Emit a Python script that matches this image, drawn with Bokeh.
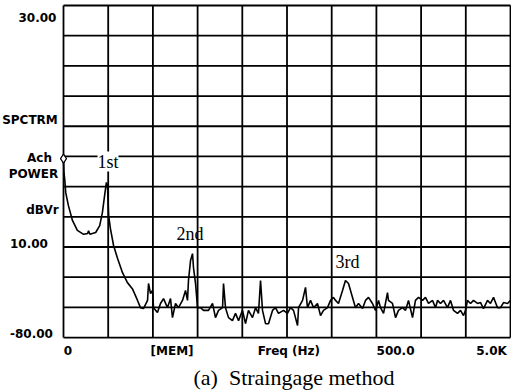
from bokeh.plotting import figure
from bokeh.models import Range1d, Label
from bokeh.embed import file_html
from bokeh.resources import INLINE

# ---- data ----
freq_hz = [
    0, 5, 15, 25, 55, 100, 155, 225, 270, 280,
    295, 360, 405, 435, 460, 480, 492, 505, 525, 560,
    605, 660, 715, 770, 805, 828, 861, 895, 940, 951,
    973, 996, 1007, 1051, 1085, 1119, 1163, 1197, 1219, 1253,
    1286, 1331, 1365, 1387, 1398, 1421, 1443, 1454, 1477, 1499,
    1532, 1566, 1622, 1667, 1700, 1734, 1779, 1790, 1812, 1846,
    1890, 1924, 1958, 2002, 2036, 2069, 2114, 2148, 2181, 2204,
    2226, 2260, 2293, 2338, 2371, 2405, 2461, 2505, 2539, 2573,
    2618, 2629, 2674, 2707, 2729, 2763, 2797, 2841, 2875, 2908,
    2953, 2987, 3020, 3043, 3076, 3121, 3154, 3188, 3233, 3266,
    3300, 3345, 3378, 3412, 3456, 3490, 3524, 3546, 3580, 3624,
    3635, 3680, 3714, 3747, 3792, 3826, 3859, 3904, 3937, 3971,
    4016, 4049, 4083, 4128, 4161, 4184, 4217, 4251, 4295, 4329,
    4363, 4407, 4441, 4474, 4497, 4519, 4553, 4586, 4631, 4665,
    4698, 4743, 4776, 4810, 4855, 4888, 4922, 4967, 5000,
]
power_dbvr = [
    -20.7, -25.3, -28.0, -32.0, -36.3, -41.2, -44.5, -45.8, -45.5, -44.6,
    -45.8, -45.2, -42.9, -38.6, -32.9, -28.6, -29.6, -39.6, -43.9, -49.5,
    -53.8, -58.5, -61.8, -63.8, -66.1, -67.7, -70.1, -70.4, -67.7, -62.1,
    -65.4, -64.4, -70.1, -71.7, -68.7, -67.1, -70.1, -67.1, -73.4, -68.7,
    -70.1, -67.7, -64.4, -67.7, -61.1, -54.5, -52.2, -56.8, -62.1, -70.1,
    -70.1, -71.0, -71.0, -68.7, -73.4, -71.0, -70.1, -62.1, -70.1, -73.4,
    -74.4, -72.0, -74.4, -71.0, -75.4, -71.0, -73.4, -70.1, -72.0, -61.1,
    -71.0, -75.4, -75.4, -71.0, -70.1, -72.0, -71.0, -72.0, -70.1, -71.0,
    -76.0, -70.1, -67.7, -63.4, -70.1, -67.7, -70.1, -68.7, -72.7, -71.0,
    -70.1, -67.7, -66.7, -67.7, -68.7, -64.4, -61.1, -62.1, -66.7, -70.1,
    -68.7, -70.4, -67.7, -66.7, -68.7, -71.0, -67.7, -70.1, -72.0, -65.1,
    -67.7, -68.7, -73.4, -71.0, -70.1, -71.0, -67.7, -73.4, -67.7, -66.7,
    -67.7, -66.7, -68.7, -67.7, -70.1, -67.7, -68.7, -67.7, -70.1, -67.7,
    -71.0, -72.0, -71.0, -72.7, -71.0, -67.7, -68.7, -67.7, -68.7, -68.4,
    -70.4, -67.7, -68.7, -66.7, -70.1, -70.1, -68.4, -68.7, -67.7,
]
marker_freq = [0]
marker_db = [-20.7]

freq_ticks = [0, 500, 1000, 1500, 2000, 2500, 3000, 3500, 4000, 4500, 5000]
db_ticks = [30, 20, 10, 0, -10, -20, -30, -40, -50, -60, -70, -80]

peak_names = ["1st", "2nd", "3rd"]
peak_freq = [498, 1415, 3177]
peak_db = [-21.7, -45.7, -55.0]

left_texts = ["30.00", "SPCTRM", "Ach", "POWER", "dBVr", "10.00", "-80.00"]
left_db = [26.0, -7.8, -20.4, -25.7, -37.6, -48.9, -78.7]
left_x = [-291, -375, -268, -336, -235, -386, -358]

bottom_texts = ["0", "[MEM]", "Freq (Hz)", "500.0", "5.0K"]
bottom_x = [50, 1214, 2522, 3714, 4788]
caption = "(a)\u00a0\u00a0Straingage method"

F0, F1 = freq_ticks[0], freq_ticks[-1]
D0, D1 = db_ticks[-1], db_ticks[0]

# ---- figure: frame spans whole canvas, grid limited to the data box ----
p = figure(width=511, height=392, output_backend="svg", toolbar_location=None,
           x_range=Range1d(-704.7, 5011.2), y_range=Range1d(-98.2, 31.66),
           min_border=0)
p.xaxis.visible = False
p.yaxis.visible = False
p.xgrid.visible = False
p.ygrid.visible = False
p.background_fill_color = "white"
p.border_fill_color = "white"
p.outline_line_color = None

# grid (including the frame box)
p.segment(x0=freq_ticks, y0=[D0] * len(freq_ticks), x1=freq_ticks,
          y1=[D1] * len(freq_ticks), line_color="black", line_width=1.8)
p.segment(x0=[F0] * len(db_ticks), y0=db_ticks, x1=[F1] * len(db_ticks),
          y1=db_ticks, line_color="black", line_width=1.8)

p.line(freq_hz, power_dbvr, line_color="black", line_width=1.6)
p.scatter(marker_freq, marker_db, marker="diamond", size=9,
          fill_color="white", line_color="black", line_width=1.2)

plot_font = "DejaVu Sans"
for t, xv, yv in zip(left_texts, left_x, left_db):
    p.add_layout(Label(x=xv, y=yv, text=t, text_align="center",
                       text_baseline="middle", text_font=plot_font,
                       text_font_size="12px", text_font_style="bold",
                       text_color="black"))

for t, xv in zip(bottom_texts, bottom_x):
    p.add_layout(Label(x=xv, y=-84.3, text=t, text_align="center",
                       text_baseline="middle", text_font=plot_font,
                       text_font_size="12px", text_font_style="bold",
                       text_color="black"))

for i, (t, xv, yv) in enumerate(zip(peak_names, peak_freq, peak_db)):
    kw = {}
    if i == 0:
        kw = dict(background_fill_color="white", background_fill_alpha=1.0)
    p.add_layout(Label(x=xv, y=yv, text=t, text_align="center",
                       text_baseline="middle", text_font="Liberation Serif",
                       text_font_size="18px", text_color="black", **kw))

p.add_layout(Label(x=2578, y=-93.3, text=caption, text_align="center",
                   text_baseline="middle", text_font="Liberation Serif",
                   text_font_size="22px", text_color="black"))

open("out.html", "w").write(file_html(p, INLINE))
